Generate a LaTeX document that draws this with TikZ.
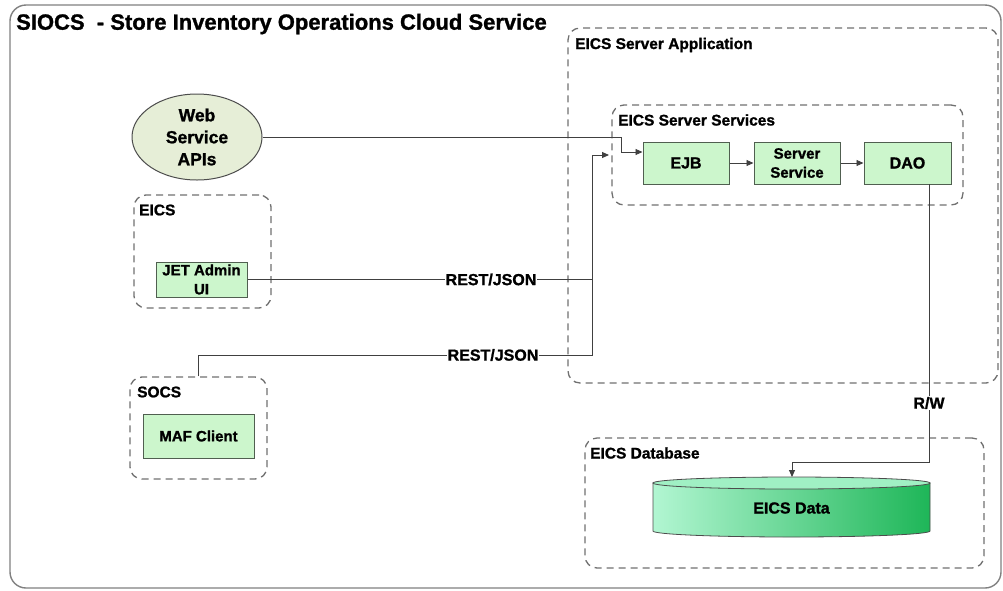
\documentclass[tikz,border=0pt]{standalone}
\usepackage{fontspec}
\setmainfont{Liberation Sans}[BoldFeatures={FakeBold=1.2}]
\usetikzlibrary{arrows.meta,shapes.geometric}
\definecolor{gfill}{RGB}{204,246,204}
\definecolor{gline}{RGB}{80,95,80}
\definecolor{efill}{RGB}{230,238,215}
\definecolor{dline}{RGB}{112,112,112}
\definecolor{cylL}{RGB}{178,246,210}
\definecolor{cylR}{RGB}{30,182,88}
\definecolor{cylT}{RGB}{160,240,196}
\tikzset{
  gbox/.style={draw=gline, line width=1pt, fill=gfill, align=center, inner sep=1pt, font=\bfseries\fontsize{15}{19}\selectfont},
  cont/.style={draw=dline, line width=1.3pt, dash pattern=on 7pt off 5pt, rounded corners=12pt, inner sep=0pt},
  ctitle/.style={anchor=west, inner sep=0pt, font=\bfseries\fontsize{15.5}{15.5}\selectfont},
  conn/.style={draw=black!75, line width=0.9pt},
  arr/.style={conn, -{Triangle[length=7pt,width=6pt]}},
  lbl/.style={fill=white, inner sep=1pt, font=\bfseries\fontsize{16}{16}\selectfont},
}
\begin{document}
\begin{tikzpicture}[x=1pt,y=-1pt]
\useasboundingbox (0,0) rectangle (1003,590);
% outer frame
\node[draw=black!50, line width=1.4pt, rounded corners=16pt, minimum width=991pt, minimum height=583pt, inner sep=0pt] (frame) at (505.5,296.5) {};
\node[anchor=west, inner sep=0pt, font=\bfseries\fontsize{22}{22}\selectfont] (title) at (16,24) {SIOCS \ - Store Inventory Operations Cloud Service};

% containers
\node[cont, minimum width=430pt, minimum height=355pt] (app) at (783,205.5) {};
\node[ctitle] (applbl) at (575,45) {EICS Server Application};
\node[cont, minimum width=351pt, minimum height=100pt] (svc) at (787.5,155) {};
\node[ctitle] (svclbl) at (618,120) {EICS Server Services};
\node[cont, minimum width=137pt, minimum height=113pt] (eics) at (202.5,251.5) {};
\node[ctitle] (eicslbl) at (139,210) {EICS};
\node[cont, minimum width=137pt, minimum height=102pt] (socs) at (198.5,428) {};
\node[ctitle] (socslbl) at (137,392) {SOCS};
\node[cont, minimum width=399pt, minimum height=130pt] (dbc) at (784.5,503) {};
\node[ctitle] (dblbl) at (590,453) {EICS Database};

% components
\node[draw=black!70, line width=1pt, fill=efill, ellipse, minimum width=130pt, minimum height=86pt, inner sep=0pt, align=center, font=\bfseries\fontsize{17.5}{22}\selectfont] (web) at (197,137) {Web\\Service\\APIs};
\node[gbox, minimum width=86pt, minimum height=42pt, font=\bfseries\fontsize{16}{16}\selectfont] (ejb) at (686,163) {EJB};
\node[gbox, minimum width=86pt, minimum height=42pt] (ss) at (797,163) {Server\\Service};
\node[gbox, minimum width=87pt, minimum height=42pt, font=\bfseries\fontsize{16}{16}\selectfont] (dao) at (907.5,163) {DAO};
\node[gbox, minimum width=91pt, minimum height=35pt] (jet) at (201.5,279.5) {JET Admin\\UI};
\node[gbox, minimum width=111pt, minimum height=44pt] (maf) at (198.5,436) {MAF Client};

% cylinder
\shade[left color=cylL, right color=cylR, draw=black!70, line width=0.8pt]
  (653,483) -- (653,531) arc[start angle=180, end angle=0, x radius=138.5, y radius=6] -- (930,483) -- cycle;
\draw[fill=cylT, draw=black!70, line width=0.8pt] (791.5,483) ellipse [x radius=138.5, y radius=6];
\node[inner sep=0pt, font=\bfseries\fontsize{16}{16}\selectfont] (data) at (791.5,508) {EICS Data};
\coordinate (dbtop) at (792,477);

% connectors
\draw[arr] (web.east) -- (621,137) -- (621,152) -- (ejb.west |- 0,152);
\draw[arr] (ejb.east) -- (ss.west);
\draw[arr] (ss.east) -- (dao.west);
\coordinate (j1) at (592,279.5);
\coordinate (s1) at (592,355);
\coordinate (s2) at (592,155);
\coordinate (s3) at (609,155);
\draw[conn] (jet.east) -- (j1);
\draw[arr] (socs.north) |- (s1) -- (s2) -- (s3);
\node[lbl] (rest1) at (491,279.5) {REST/JSON};
\node[lbl] (rest2) at (493,355) {REST/JSON};
\coordinate (d0) at (929,184);
\draw[arr] (d0) -- (929,462) -| (dbtop);
\node[lbl] (rw) at (929,403) {R/W};
\end{tikzpicture}
\end{document}
